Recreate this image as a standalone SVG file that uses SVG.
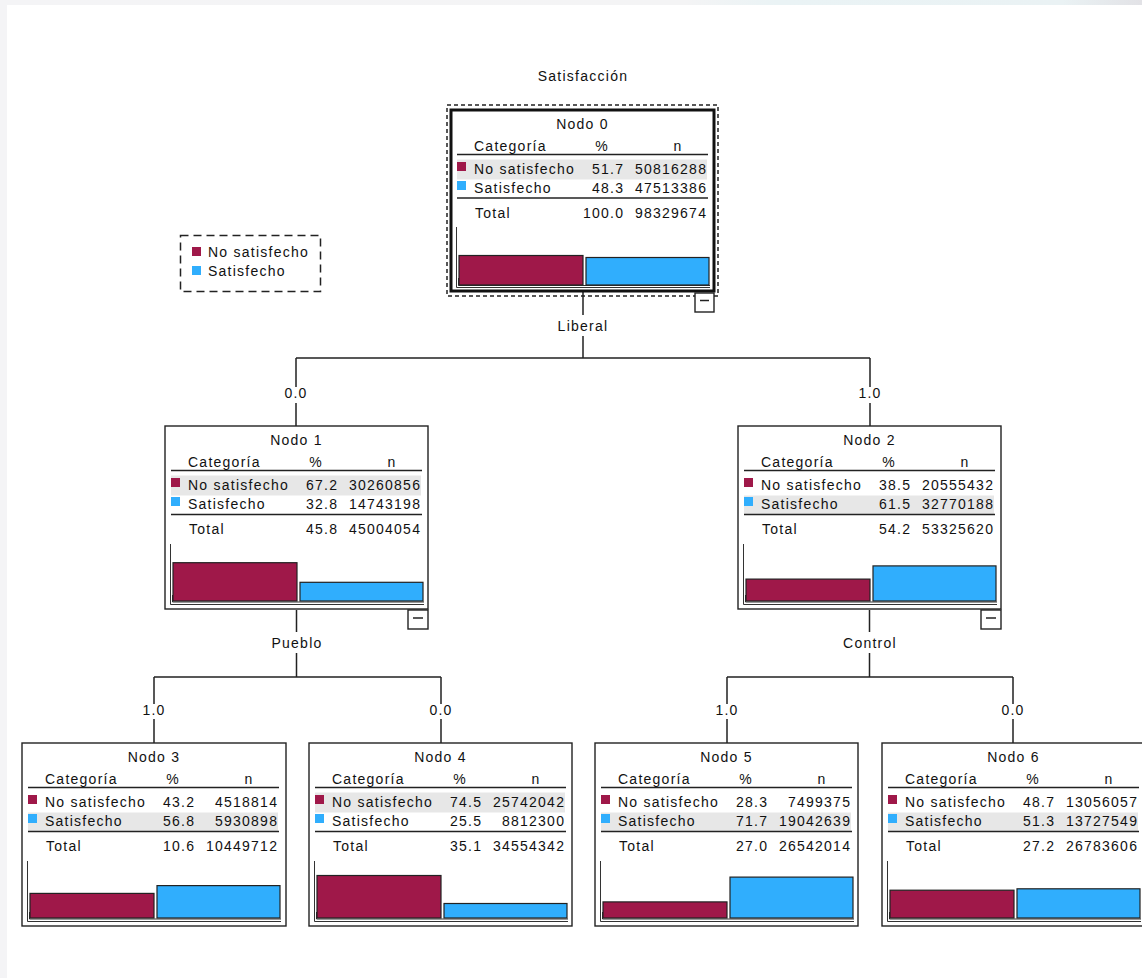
<svg xmlns="http://www.w3.org/2000/svg" width="1142" height="978" viewBox="0 0 1142 978">
<defs>
<style>
text{font-family:"Liberation Sans",Arial,sans-serif;font-size:14px;fill:#111;letter-spacing:1.25px}
.m{text-anchor:middle}
.e{text-anchor:end}
.box{fill:#fff;stroke:#222;stroke-width:1.4}
.thick{fill:#fff;stroke:#111;stroke-width:3}
.ln{stroke:#222;stroke-width:1.5;fill:none}
.thin{stroke:#333;stroke-width:1;fill:none}
.hl{fill:#e7e7e7}
.r{fill:#9f1849}
.b{fill:#30aefd}
.rb{fill:#9f1849;stroke:#222;stroke-width:1.2}
.bb{fill:#30aefd;stroke:#222;stroke-width:1.2}
.con{stroke:#222;stroke-width:1.5;fill:none}
.dash{fill:none;stroke:#222;stroke-width:1.5;stroke-dasharray:4 3}
.ldash{fill:none;stroke:#222;stroke-width:1.5;stroke-dasharray:8 5}
</style>
<linearGradient id="topg" x1="0" y1="0" x2="1" y2="0">
<stop offset="0" stop-color="#f4f4f6"/>
<stop offset="0.6" stop-color="#f4f4f5"/>
<stop offset="0.68" stop-color="#eaf3f5"/>
<stop offset="0.93" stop-color="#eaf2f4"/>
<stop offset="1" stop-color="#e2e2e6"/>
</linearGradient>
</defs>
<rect x="0" y="0" width="1142" height="978" fill="#f4f4f6"/>
<rect x="0" y="0" width="1142" height="5" fill="url(#topg)"/>
<rect x="7" y="5" width="1135" height="973" fill="#fff"/>

<text class="m" x="583" y="81">Satisfacción</text>

<g id="legend">
<rect class="ldash" x="180.5" y="235.5" width="140" height="56"/>
<rect class="r" x="192" y="247" width="9" height="9"/>
<text x="208" y="257">No satisfecho</text>
<rect class="b" x="192" y="266" width="9" height="9"/>
<text x="208" y="276">Satisfecho</text>
</g>

<g id="connectors">
<path class="con" d="M583,292V315M583,336V358M296,358H870M296,358V387M296,403V426M870,358V387M870,403V426"/>
<path class="con" d="M296.5,610V632M296.5,653V677M154,677H441M154,677V704M154,719V743M441,677V704M441,719V743"/>
<path class="con" d="M869.5,610V632M869.5,653V677M727,677H1013M727,677V704M727,719V743M1013,677V704M1013,719V743"/>
<text class="m" x="583" y="331">Liberal</text>
<text class="m" x="296" y="398">0.0</text>
<text class="m" x="870" y="398">1.0</text>
<text class="m" x="297" y="648">Pueblo</text>
<text class="m" x="870" y="648">Control</text>
<text class="m" x="154" y="715">1.0</text>
<text class="m" x="441" y="715">0.0</text>
<text class="m" x="727" y="715">1.0</text>
<text class="m" x="1013" y="715">0.0</text>
</g>

<g id="node0" transform="translate(451,110)">
<rect class="dash" x="-4" y="-5" width="271" height="191"/>
<rect class="thick" x="0" y="0" width="263" height="181"/>
<text class="m" x="131.5" y="18.5">Nodo 0</text>
<text x="23" y="41">Categoría</text><text class="m" x="151" y="41">%</text><text class="m" x="227" y="41">n</text>
<line class="ln" x1="6" y1="44.5" x2="257" y2="44.5"/>
<rect class="hl" x="6" y="49.5" width="250" height="20"/>
<rect class="r" x="6" y="52" width="9" height="9"/>
<text x="23" y="64">No satisfecho</text><text class="e" x="173.2" y="64">51.7</text><text class="e" x="256.2" y="64">50816288</text>
<rect class="b" x="6" y="71" width="9" height="9"/>
<text x="23" y="83">Satisfecho</text><text class="e" x="173.2" y="83">48.3</text><text class="e" x="256.2" y="83">47513386</text>
<line class="ln" x1="6" y1="88" x2="257" y2="88"/>
<text x="24" y="108">Total</text><text class="e" x="173.2" y="108">100.0</text><text class="e" x="256.2" y="108">98329674</text>
<path class="thin" d="M5.5,117V177.5H259M7.5,168V175.5H259"/>
<rect class="rb" x="8" y="145.5" width="124" height="29.5"/>
<rect class="bb" x="135" y="147.5" width="123" height="27.5"/>
<rect class="box" x="244" y="183" width="19" height="19"/>
<line class="ln" x1="249" y1="190.5" x2="258" y2="190.5"/>
</g>

<g id="node1" transform="translate(165,426)">
<rect class="box" x="0" y="0" width="263" height="183"/>
<text class="m" x="131.5" y="18.5">Nodo 1</text>
<text x="23" y="41">Categoría</text><text class="m" x="151" y="41">%</text><text class="m" x="227" y="41">n</text>
<line class="ln" x1="6" y1="44.5" x2="257" y2="44.5"/>
<rect class="hl" x="6" y="49.5" width="250" height="20"/>
<rect class="r" x="6" y="52" width="9" height="9"/>
<text x="23" y="64">No satisfecho</text><text class="e" x="173.2" y="64">67.2</text><text class="e" x="256.2" y="64">30260856</text>
<rect class="b" x="6" y="71" width="9" height="9"/>
<text x="23" y="83">Satisfecho</text><text class="e" x="173.2" y="83">32.8</text><text class="e" x="256.2" y="83">14743198</text>
<line class="ln" x1="6" y1="88.5" x2="257" y2="88.5"/>
<text x="24" y="108">Total</text><text class="e" x="173.2" y="108">45.8</text><text class="e" x="256.2" y="108">45004054</text>
<path class="thin" d="M5.5,118V178.5H259M7.5,169V176H259"/>
<rect class="rb" x="8" y="136.7" width="124" height="38.3"/>
<rect class="bb" x="135" y="156.3" width="123" height="18.7"/>
<rect class="box" x="243" y="184" width="20" height="19"/>
<line class="ln" x1="248" y1="192" x2="258" y2="192"/>
</g>

<g id="node2" transform="translate(738,426)">
<rect class="box" x="0" y="0" width="263" height="183"/>
<text class="m" x="131.5" y="18.5">Nodo 2</text>
<text x="23" y="41">Categoría</text><text class="m" x="151" y="41">%</text><text class="m" x="227" y="41">n</text>
<line class="ln" x1="6" y1="44.5" x2="257" y2="44.5"/>
<rect class="hl" x="6" y="69.5" width="250" height="19"/>
<rect class="r" x="6" y="52" width="9" height="9"/>
<text x="23" y="64">No satisfecho</text><text class="e" x="173.2" y="64">38.5</text><text class="e" x="256.2" y="64">20555432</text>
<rect class="b" x="6" y="71" width="9" height="9"/>
<text x="23" y="83">Satisfecho</text><text class="e" x="173.2" y="83">61.5</text><text class="e" x="256.2" y="83">32770188</text>
<line class="ln" x1="6" y1="88.5" x2="257" y2="88.5"/>
<text x="24" y="108">Total</text><text class="e" x="173.2" y="108">54.2</text><text class="e" x="256.2" y="108">53325620</text>
<path class="thin" d="M5.5,118V178.5H259M7.5,169V176H259"/>
<rect class="rb" x="8" y="153.1" width="124" height="21.9"/>
<rect class="bb" x="135" y="139.9" width="123" height="35.1"/>
<rect class="box" x="243" y="184" width="20" height="19"/>
<line class="ln" x1="248" y1="192" x2="258" y2="192"/>
</g>

<g id="node3" transform="translate(22,743)">
<rect class="box" x="0" y="0" width="264" height="183"/>
<text class="m" x="132" y="18.5">Nodo 3</text>
<text x="23" y="41">Categoría</text><text class="m" x="151" y="41">%</text><text class="m" x="227" y="41">n</text>
<line class="ln" x1="6" y1="44.5" x2="257" y2="44.5"/>
<rect class="hl" x="6" y="69.5" width="250" height="19"/>
<rect class="r" x="6" y="52" width="9" height="9"/>
<text x="23" y="64">No satisfecho</text><text class="e" x="173.2" y="64">43.2</text><text class="e" x="256.2" y="64">4518814</text>
<rect class="b" x="6" y="71" width="9" height="9"/>
<text x="23" y="83">Satisfecho</text><text class="e" x="173.2" y="83">56.8</text><text class="e" x="256.2" y="83">5930898</text>
<line class="ln" x1="6" y1="88.5" x2="257" y2="88.5"/>
<text x="24" y="108">Total</text><text class="e" x="173.2" y="108">10.6</text><text class="e" x="256.2" y="108">10449712</text>
<path class="thin" d="M5.5,118V178.5H259M7.5,169V176H259"/>
<rect class="rb" x="8" y="150.4" width="124" height="24.6"/>
<rect class="bb" x="135" y="142.6" width="123" height="32.4"/>
</g>

<g id="node4" transform="translate(309,743)">
<rect class="box" x="0" y="0" width="263" height="183"/>
<text class="m" x="131.5" y="18.5">Nodo 4</text>
<text x="23" y="41">Categoría</text><text class="m" x="151" y="41">%</text><text class="m" x="227" y="41">n</text>
<line class="ln" x1="6" y1="44.5" x2="257" y2="44.5"/>
<rect class="hl" x="6" y="49.5" width="250" height="20"/>
<rect class="r" x="6" y="52" width="9" height="9"/>
<text x="23" y="64">No satisfecho</text><text class="e" x="173.2" y="64">74.5</text><text class="e" x="256.2" y="64">25742042</text>
<rect class="b" x="6" y="71" width="9" height="9"/>
<text x="23" y="83">Satisfecho</text><text class="e" x="173.2" y="83">25.5</text><text class="e" x="256.2" y="83">8812300</text>
<line class="ln" x1="6" y1="88.5" x2="257" y2="88.5"/>
<text x="24" y="108">Total</text><text class="e" x="173.2" y="108">35.1</text><text class="e" x="256.2" y="108">34554342</text>
<path class="thin" d="M5.5,118V178.5H259M7.5,169V176H259"/>
<rect class="rb" x="8" y="132.5" width="124" height="42.5"/>
<rect class="bb" x="135" y="160.5" width="123" height="14.5"/>
</g>

<g id="node5" transform="translate(595,743)">
<rect class="box" x="0" y="0" width="263" height="183"/>
<text class="m" x="131.5" y="18.5">Nodo 5</text>
<text x="23" y="41">Categoría</text><text class="m" x="151" y="41">%</text><text class="m" x="227" y="41">n</text>
<line class="ln" x1="6" y1="44.5" x2="257" y2="44.5"/>
<rect class="hl" x="6" y="69.5" width="250" height="19"/>
<rect class="r" x="6" y="52" width="9" height="9"/>
<text x="23" y="64">No satisfecho</text><text class="e" x="173.2" y="64">28.3</text><text class="e" x="256.2" y="64">7499375</text>
<rect class="b" x="6" y="71" width="9" height="9"/>
<text x="23" y="83">Satisfecho</text><text class="e" x="173.2" y="83">71.7</text><text class="e" x="256.2" y="83">19042639</text>
<line class="ln" x1="6" y1="88.5" x2="257" y2="88.5"/>
<text x="24" y="108">Total</text><text class="e" x="173.2" y="108">27.0</text><text class="e" x="256.2" y="108">26542014</text>
<path class="thin" d="M5.5,118V178.5H259M7.5,169V176H259"/>
<rect class="rb" x="8" y="158.9" width="124" height="16.1"/>
<rect class="bb" x="135" y="134.1" width="123" height="40.9"/>
</g>

<g id="node6" transform="translate(882,743)">
<rect class="box" x="0" y="0" width="263" height="183"/>
<text class="m" x="131.5" y="18.5">Nodo 6</text>
<text x="23" y="41">Categoría</text><text class="m" x="151" y="41">%</text><text class="m" x="227" y="41">n</text>
<line class="ln" x1="6" y1="44.5" x2="257" y2="44.5"/>
<rect class="hl" x="6" y="69.5" width="250" height="19"/>
<rect class="r" x="6" y="52" width="9" height="9"/>
<text x="23" y="64">No satisfecho</text><text class="e" x="173.2" y="64">48.7</text><text class="e" x="256.2" y="64">13056057</text>
<rect class="b" x="6" y="71" width="9" height="9"/>
<text x="23" y="83">Satisfecho</text><text class="e" x="173.2" y="83">51.3</text><text class="e" x="256.2" y="83">13727549</text>
<line class="ln" x1="6" y1="88.5" x2="257" y2="88.5"/>
<text x="24" y="108">Total</text><text class="e" x="173.2" y="108">27.2</text><text class="e" x="256.2" y="108">26783606</text>
<path class="thin" d="M5.5,118V178.5H259M7.5,169V176H259"/>
<rect class="rb" x="8" y="147.2" width="124" height="27.8"/>
<rect class="bb" x="135" y="145.8" width="123" height="29.2"/>
</g>
</svg>
